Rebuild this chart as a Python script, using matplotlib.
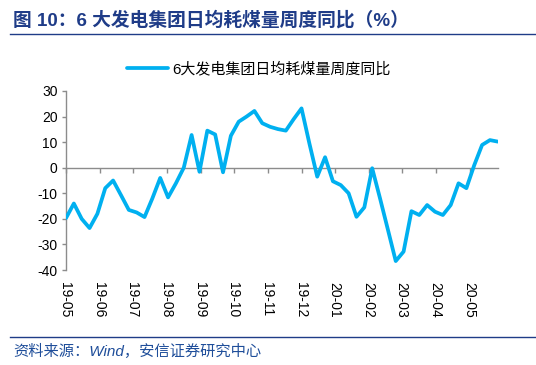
import matplotlib
matplotlib.use("Agg")
import matplotlib.pyplot as plt
import matplotlib.transforms as mtransforms
import pandas as pd

# ---------------- data ----------------
title = "图 10：6 大发电集团日均耗煤量周度同比（%）"
series_name = "6大发电集团日均耗煤量周度同比"
source = "资料来源：Wind，安信证券研究中心"
start_date = "2019-05-10"
values = [
    -19.7, -14.0, -20.0, -23.6, -18.0, -8.0, -5.0, -10.7, -16.5, -17.5,
    -19.3, -12.0, -4.0, -11.6, -6.1, 0.0, 12.8, -1.6, 14.5, 13.0,
    -1.8, 12.5, 18.0, 20.0, 22.2, 17.4, 16.0, 15.1, 14.5, 19.0,
    23.2, 9.5, -3.5, 4.1, -5.3, -6.8, -10.0, -19.2, -15.5, -0.2,
    -12.0, -24.2, -36.5, -32.8, -17.0, -18.5, -14.6, -17.2, -18.5, -14.6,
    -6.1, -8.0, 1.0, 8.9, 10.8, 10.2,
]
yticks = [-40, -30, -20, -10, 0, 10, 20, 30]

dates = pd.date_range(start_date, periods=len(values), freq="7D")
tick_dates = pd.date_range(dates[0], dates[-1], freq="30D")
tick_labels = [d.strftime("%y-%m") for d in tick_dates]

# ---------------- style ----------------
LINE = "#00B0F0"
AXIS = "#8C8C8C"
NAVY = "#1F3C88"
SRC = "#1F4E9A"
LATIN = "Liberation Sans"
CJK = "Noto Sans CJK SC"
plt.rcParams["font.family"] = [LATIN, CJK, "DejaVu Sans"]

W, H = 536, 365
fig = plt.figure(figsize=(W / 100, H / 100), dpi=100)
ax = fig.add_axes([66 / W, 1 - 270 / H, (497.8 - 66) / W, (270 - 91) / H])

ax.plot(dates, values, color=LINE, lw=2.7, solid_joinstyle="round",
        solid_capstyle="round", label=series_name, zorder=3)
ax.set_xlim(dates[0], dates[-1])
ax.set_ylim(-40, 30)
ax.set_yticks(yticks)
ax.set_yticklabels([str(v) for v in yticks], fontsize=10, color="#000000",
                   family=[LATIN])

for s in ["top", "right"]:
    ax.spines[s].set_visible(False)
ax.spines["left"].set_color(AXIS)
ax.spines["left"].set_linewidth(1.0)
ax.spines["bottom"].set_position(("data", 0))
ax.spines["bottom"].set_color(AXIS)
ax.spines["bottom"].set_linewidth(1.0)
ax.tick_params(axis="y", direction="out", length=3, color=AXIS, width=1, pad=3)
ax.set_xticks(tick_dates)
ax.tick_params(axis="x", direction="out", length=3.5, color=AXIS, width=1,
               labelbottom=False)

# month labels at the bottom of the plot area
lab_tr = mtransforms.offset_copy(
    mtransforms.blended_transform_factory(ax.transData, ax.transAxes),
    fig=fig, x=-1, y=-12, units="dots")
for d, lab in zip(tick_dates, tick_labels):
    ax.text(d, 0, lab, transform=lab_tr, rotation=-90, ha="center", va="top",
            fontsize=10, family=[LATIN], color="#000000")

# legend
fig.legend(loc="center", bbox_to_anchor=(259 / W, 1 - 69 / H),
           bbox_transform=fig.transFigure, frameon=False,
           handlelength=2.7, handletextpad=0.3, borderpad=0, borderaxespad=0,
           prop={"family": [LATIN, CJK], "size": 10.8})

# title and lines
fig.text(13 / W, 1 - 20 / H, title, fontsize=13.5, fontweight="bold", color=NAVY,
         va="center", ha="left", family=[LATIN, CJK])
fig.add_artist(plt.Line2D([10 / W, 1], [1 - 34 / H, 1 - 34 / H],
                          transform=fig.transFigure, color=NAVY, lw=1.0))
fig.add_artist(plt.Line2D([10 / W, 1], [1 - 337 / H, 1 - 337 / H],
                          transform=fig.transFigure, color=NAVY, lw=1.0))
fig.text(13 / W, 1 - 351 / H, source, fontsize=11, style="italic", color=SRC,
         va="center", ha="left", family=[LATIN, CJK])

fig.savefig("out.png", dpi=100)
